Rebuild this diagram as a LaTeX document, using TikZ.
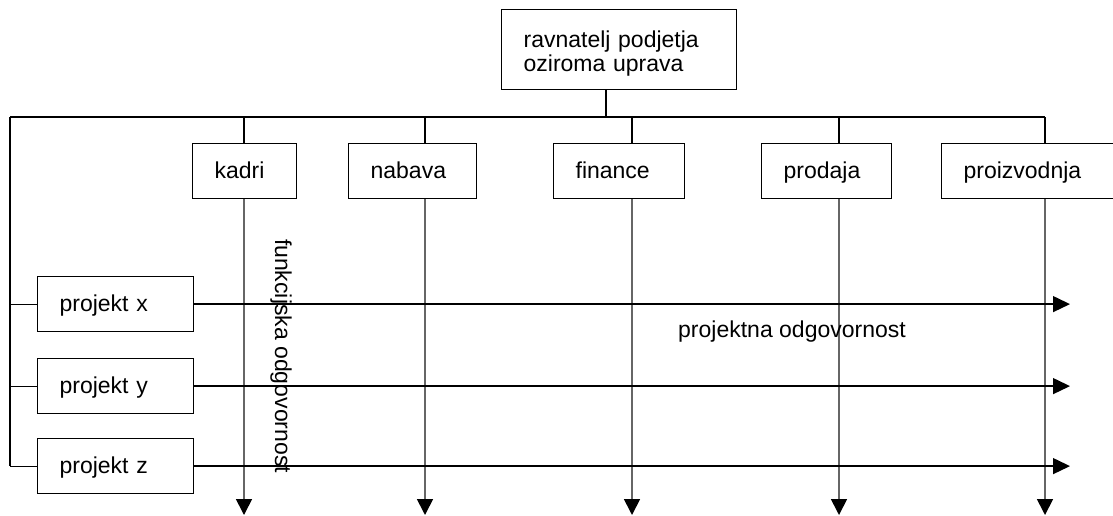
\documentclass[tikz,border=0pt]{standalone}
\usepackage{fontspec}
\setmainfont{Liberation Sans}
\usetikzlibrary{arrows.meta}
\begin{document}
\begin{tikzpicture}[x=1pt,y=1pt,
  box/.style={draw, line width=1.2pt, minimum height=55pt, inner xsep=22pt,
    inner ysep=0pt, align=left, anchor=north west,
    font=\fontsize{23}{24}\selectfont},
  onebox/.style={box, text height=17pt, text depth=2pt},
  link/.style={line width=1.2pt},
  funcarrow/.style={draw=black!60, line width=1.7pt,
    -{Triangle[length=16pt,width=16pt,color=black]}},
  projarrow/.style={line width=1.3pt,
    -{Triangle[length=17pt,width=16pt,color=black]}},
  lbl/.style={font=\fontsize{23}{24}\selectfont, inner sep=0pt}]
\useasboundingbox (0,0) rectangle (1113,-515);

% management
\node[box, minimum height=80pt, text width=191pt] (top) at (501,-9)
  {\rule{0pt}{24pt}ravnatelj podjetja\\oziroma uprava};

% functional departments
\node[onebox, text width=60pt]  (kadri)  at (192,-143) {kadri};
\node[onebox, text width=84pt]  (nabava) at (348,-143) {nabava};
\node[onebox, text width=87pt]  (fin)    at (553,-143) {finance};
\node[onebox, text width=86pt]  (prod)   at (761,-143) {prodaja};
\node[onebox, text width=129pt] (proiz)  at (941,-143) {proizvodnja};

% projects
\node[onebox, text width=112pt] (px) at (37,-276) {projekt x};
\node[onebox, text width=112pt] (py) at (37,-358) {projekt y};
\node[onebox, text width=112pt] (pz) at (37,-438) {projekt z};

% bus and column positions
\coordinate (hub)  at (606,-117);
\coordinate (busL) at (10,-117);
\coordinate (busR) at (1045,-117);
\coordinate (cK) at (244,-117);
\coordinate (cN) at (425,-117);
\coordinate (cF) at (632,-117);
\coordinate (cP) at (839,-117);
\coordinate (cZ) at (1045,-117);
\coordinate (bottom) at (0,-515);
\coordinate (right)  at (1070,0);

% tree connectors
\draw[link] (top.south -| hub) -- (hub);
\draw[link] (busL) -- (busR);
\draw[link] (busL) -- (busL |- pz.west);
\draw[link] (busL |- px.west) -- (px.west);
\draw[link] (busL |- py.west) -- (py.west);
\draw[link] (busL |- pz.west) -- (pz.west);
\foreach \c/\n in {cK/kadri, cN/nabava, cF/fin, cP/prod, cZ/proiz}
  \draw[link] (\c) -- (\c |- \n.north);

% functional responsibility (downward)
\foreach \c/\n in {cK/kadri, cN/nabava, cF/fin, cP/prod, cZ/proiz}
  \draw[funcarrow] (\c |- \n.south) -- (\c |- bottom);

% project responsibility (rightward)
\foreach \p in {px, py, pz}
  \draw[projarrow] (\p.east) -- (\p.east -| right);

% labels
\node[lbl, anchor=base west] (plbl) at (678,-337) {projektna odgovornost};
\node[lbl, rotate=-90] (flbl) at (281,-356) {funkcijska odgovornost};
\end{tikzpicture}
\end{document}
